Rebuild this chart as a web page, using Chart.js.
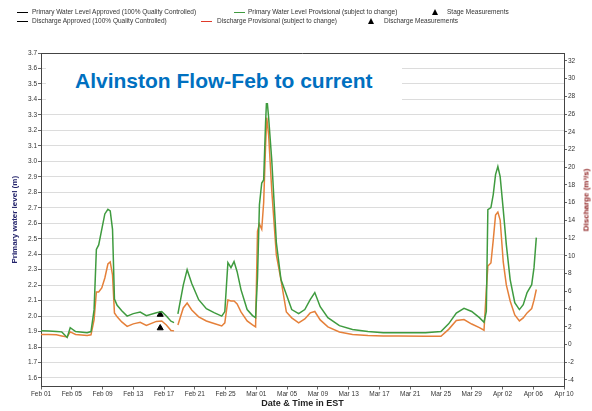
<!DOCTYPE html>
<html>
<head>
<meta charset="utf-8">
<script src="https://cdn.jsdelivr.net/npm/chart.js@4.4.0/dist/chart.umd.min.js"></script>
<style>
  body { margin: 0; background: #fff; font-family: 'Liberation Sans', Arial, sans-serif; }
  #wrap { position: relative; width: 592px; height: 411px; }
  #chart { position: absolute; left: 0; top: 0; }
  .lg { position: absolute; font-size: 6.5px; line-height: 8px; color: #333; white-space: nowrap; }
  .ln { position: absolute; height: 1.5px; width: 11px; }
  .tri { position: absolute; width: 0; height: 0; border-left: 3px solid transparent; border-right: 3px solid transparent; border-bottom: 6px solid #000; }
  #titleBox { position: absolute; left: 46px; top: 56px; width: 356px; height: 47px; background: #fff; }
  #titleText { position: absolute; left: 75px; top: 69px; font-size: 21px; line-height: 24px; font-weight: bold; color: #0070c0; white-space: nowrap; }
  #rightTitle { position: absolute; left: 586px; top: 200px; transform: translate(-50%, -50%) rotate(-90deg); font-size: 8px; font-weight: bold; color: #8b1a1a; white-space: nowrap; }
</style>
</head>
<body>
<div id="wrap">
  <canvas id="chart" width="592" height="411"></canvas>

  <div class="ln" style="left:17px;top:11.5px;background:#000"></div>
  <div class="lg" style="left:32px;top:8px">Primary Water Level Approved (100% Quality Controlled)</div>
  <div class="ln" style="left:234px;top:11.5px;background:#3f9b3f"></div>
  <div class="lg" style="left:248px;top:8px">Primary Water Level Provisional (subject to change)</div>
  <div class="tri" style="left:432px;top:9px"></div>
  <div class="lg" style="left:447px;top:8px">Stage Measurements</div>

  <div class="ln" style="left:17px;top:20.5px;background:#000"></div>
  <div class="lg" style="left:32px;top:17px">Discharge Approved (100% Quality Controlled)</div>
  <div class="ln" style="left:201px;top:20.5px;background:#e03a2a"></div>
  <div class="lg" style="left:217px;top:17px">Discharge Provisional (subject to change)</div>
  <div class="tri" style="left:368px;top:18px"></div>
  <div class="lg" style="left:384px;top:17px">Discharge Measurements</div>

  <div id="titleBox"></div>
  <div id="titleText">Alvinston Flow-Feb to current</div>
  <div id="rightTitle">Discharge (m³/s)</div>
</div>

<script>
// tick labels
var dateLabels = ['Feb 01', 'Feb 05', 'Feb 09', 'Feb 13', 'Feb 17', 'Feb 21', 'Feb 25', 'Mar 01', 'Mar 05',
    'Mar 09', 'Mar 13', 'Mar 17', 'Mar 21', 'Mar 25', 'Mar 29', 'Apr 02', 'Apr 06', 'Apr 10'];
var levelTicks = [1.6, 1.7, 1.8, 1.9, 2.0, 2.1, 2.2, 2.3, 2.4, 2.5, 2.6, 2.7, 2.8, 2.9, 3.0, 3.1, 3.2, 3.3, 3.4, 3.5, 3.6, 3.7];
var dischargeTicks = [-4, -2, 0, 2, 4, 6, 8, 10, 12, 14, 16, 18, 20, 22, 24, 26, 28, 30, 32];

// days since Feb 01
var days = [0, 1, 2, 2.7, 3.4, 3.8, 4.5, 6, 6.5, 6.9, 7.2, 7.5, 7.9, 8.3, 8.7, 9.0, 9.3, 9.55, 9.9, 10.5,
    11.2, 12, 12.9, 13.7, 15, 15.7, 16.3, 16.9, 17.3, 17.5, 17.8, 18.5, 19.0, 19.6, 20.5, 21.5, 22.5, 23.5,
    23.9, 24.3, 24.7, 25.1, 25.5, 26.0, 26.8, 27.5, 27.9, 28.15, 28.4, 28.7, 28.95, 29.2, 29.35, 29.6, 30.0,
    30.6, 31.2, 31.9, 32.6, 33.5, 34.3, 35.0, 35.6, 36.3, 37.3, 38.8, 40.5, 42.5, 44.5, 46.5, 50, 52, 53,
    54, 55, 56, 57, 57.6, 57.9, 58.1, 58.5, 58.8, 59.1, 59.4, 59.7, 60.1, 60.5, 61.0, 61.6, 62.2, 62.7,
    63.2, 63.8, 64.1, 64.4];
// primary water level (m)
var waterLevel = [1.905, 1.903, 1.900, 1.898, 1.862, 1.925, 1.900, 1.893, 1.900, 2.04, 2.43, 2.46, 2.56, 2.66, 2.69, 2.68, 2.56, 2.11, 2.07, 2.035,
    2.00, 2.016, 2.026, 2.003, 2.022, 2.029, 2.00, 1.967, 1.958, null, 2.015, 2.20, 2.30, 2.21, 2.106, 2.048, 2.022, 2.000,
    2.029, 2.345, 2.313, 2.352, 2.287, 2.171, 2.042, 2.003, 1.990, 2.25, 2.72, 2.86, 2.88, 3.25, 3.42, 3.28, 3.01,
    2.475, 2.236, 2.139, 2.042, 2.016, 2.042, 2.106, 2.152, 2.061, 1.990, 1.938, 1.913, 1.900, 1.893, 1.893, 1.893, 1.900, 1.950,
    2.020, 2.050, 2.030, 1.990, 1.960, 2.030, 2.688, 2.701, 2.785, 2.914, 2.966, 2.901, 2.688, 2.462, 2.236, 2.087, 2.042, 2.074,
    2.152, 2.203, 2.313, 2.507];
// discharge (m3/s)
var discharge = [1.13, 1.13, 1.08, 0.96, 0.85, 1.41, 1.13, 1.02, 1.08, 2.77, 5.93, 5.93, 6.38, 7.50, 9.08, 9.31, 7.84, 3.56, 3.11, 2.54,
    2.03, 2.32, 2.49, 2.15, 2.60, 2.65, 2.20, 1.58, 1.53, null, 2.20, 4.12, 4.68, 3.89, 3.11, 2.65, 2.37, 2.09,
    2.43, 5.02, 4.91, 4.91, 4.57, 3.67, 2.65, 2.20, 1.98, 12.8, 13.6, 13.0, 16.0, 22.5, 25.6, 23.6, 17.4,
    10.1, 7.28, 3.67, 3.00, 2.43, 2.88, 3.56, 3.72, 2.77, 1.98, 1.41, 1.13, 1.02, 0.96, 0.96, 0.91, 0.91, 1.70,
    2.70, 2.80, 2.30, 1.90, 1.60, 6.15, 8.85, 9.19, 11.78, 14.60, 14.94, 14.04, 9.31, 6.72, 4.91, 3.33, 2.65, 3.00,
    3.56, 4.05, 5.00, 6.20];
// field measurements
var stageDays = [15.5];
var stageLevels = [2.01];
var dischargeMeasDays = [15.5];
var dischargeMeas = [1.85];

function toPoints(xs, ys) {
    return xs.map(function(x, i) { return {x: x, y: ys[i]}; });
}

Chart.defaults.font.family = "'Liberation Sans', Arial, sans-serif";
Chart.defaults.color = '#333';

var boxPlugin = {
    id: 'box',
    afterDraw: function(chart) {
        var a = chart.chartArea, c = chart.ctx;
        c.save();
        c.strokeStyle = '#444';
        c.lineWidth = 1;
        c.beginPath();
        c.moveTo(a.left, a.top + 0.5);
        c.lineTo(a.right, a.top + 0.5);
        c.stroke();
        c.restore();
    }
};

var ctx = document.getElementById('chart').getContext('2d');
var chart = new Chart(ctx, {
    type: 'line',
    data: {
        datasets: [
            {
                label: 'Primary Water Level Provisional',
                data: toPoints(days, waterLevel),
                borderColor: '#3f9b3f',
                borderWidth: 1.5,
                pointRadius: 0,
                yAxisID: 'y',
                spanGaps: false
            },
            {
                label: 'Discharge Provisional',
                data: toPoints(days, discharge),
                borderColor: '#e5803a',
                borderWidth: 1.5,
                pointRadius: 0,
                yAxisID: 'y1',
                spanGaps: false
            },
            {
                label: 'Stage Measurements',
                data: toPoints(stageDays, stageLevels),
                showLine: false,
                pointStyle: 'triangle',
                pointRadius: 3.5,
                backgroundColor: '#000',
                borderColor: '#000',
                yAxisID: 'y'
            },
            {
                label: 'Discharge Measurements',
                data: toPoints(dischargeMeasDays, dischargeMeas),
                showLine: false,
                pointStyle: 'triangle',
                pointRadius: 3.5,
                backgroundColor: '#000',
                borderColor: '#000',
                yAxisID: 'y1'
            }
        ]
    },
    options: {
        responsive: false,
        animation: false,
        devicePixelRatio: 1,
        layout: {padding: {top: 53, left: 0, right: 0, bottom: 0}},
        plugins: {legend: {display: false}, tooltip: {enabled: false}},
        scales: {
            x: {
                type: 'linear',
                min: 0,
                max: 68,
                afterBuildTicks: function(scale) {
                    scale.ticks = dateLabels.map(function(l, i) { return {value: i * 4}; });
                },
                afterFit: function(scale) { scale.height = 24.5; },
                ticks: {
                    autoSkip: false,
                    maxRotation: 0,
                    padding: 1,
                    font: {size: 6.5},
                    color: '#333',
                    callback: function(v) { return dateLabels[Math.round(v / 4)]; }
                },
                grid: {drawOnChartArea: false, tickLength: 3, tickColor: '#666'},
                border: {color: '#444'},
                title: {
                    display: true,
                    text: 'Date & Time in EST',
                    font: {size: 9, weight: 'bold'},
                    color: '#222',
                    padding: {top: 0, bottom: 2}
                }
            },
            y: {
                position: 'left',
                min: 1.545,
                max: 3.7,
                afterBuildTicks: function(scale) {
                    scale.ticks = levelTicks.map(function(v) { return {value: v}; });
                },
                afterFit: function(scale) { scale.width = 41; },
                ticks: {
                    padding: 1,
                    font: {size: 6.5},
                    color: '#333',
                    callback: function(v) { return v.toFixed(1); }
                },
                grid: {color: '#dcdcdc', tickLength: 3, tickColor: '#666'},
                border: {color: '#444'},
                title: {
                    display: true,
                    text: 'Primary water level (m)',
                    font: {size: 8, weight: 'bold'},
                    color: '#23236b',
                    padding: {top: 10, bottom: 0}
                }
            },
            y1: {
                position: 'right',
                min: -4.75,
                max: 32.9,
                afterBuildTicks: function(scale) {
                    scale.ticks = dischargeTicks.map(function(v) { return {value: v}; });
                },
                afterFit: function(scale) { scale.width = 28; },
                ticks: {
                    padding: 1,
                    font: {size: 6.5},
                    color: '#333'
                },
                grid: {drawOnChartArea: false, tickLength: 3, tickColor: '#666'},
                border: {color: '#444'}
            }
        }
    },
    plugins: [boxPlugin]
});
</script>
</body>
</html>
